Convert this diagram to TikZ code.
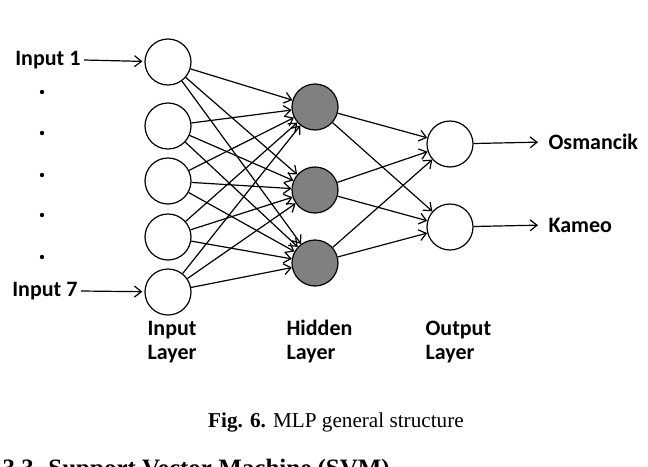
\documentclass[tikz,border=0pt]{standalone}
\usepackage{fontspec}
\usetikzlibrary{arrows.meta}
\setmainfont{Liberation Serif}
\newfontfamily\lblfont{Carlito}
\begin{document}
\begin{tikzpicture}[x=1pt, y=-1pt, line width=1.2pt,
  >={Straight Barb[length=7pt, width=11pt, line width=1.2pt]},
  neuron/.style={circle, draw, minimum size=46pt, inner sep=0pt},
  hidn/.style={neuron, fill=gray},
  lbl/.style={font=\lblfont\bfseries\fontsize{22}{24}\selectfont, inner sep=3pt},
  dotmark/.style={circle, fill, inner sep=0pt, minimum size=4.4pt}]
\useasboundingbox (0,0) rectangle (648,466);
% input layer
\node[neuron] (in1) at (168,62){};
\node[neuron] (in2) at (168,126){};
\node[neuron] (in3) at (168,181){};
\node[neuron] (in4) at (168,237){};
\node[neuron] (in5) at (168,292){};
% hidden layer
\node[hidn] (hid1) at (315,107){};
\node[hidn] (hid2) at (315,190){};
\node[hidn] (hid3) at (315,263){};
% output layer
\node[neuron] (out1) at (450,144){};
\node[neuron] (out2) at (450,227){};
% inputs and outputs
\node[lbl, anchor=east] (lin1) at (84,60){Input 1};
\node[lbl, anchor=east] (lin7) at (81,291){Input 7};
\node[lbl, anchor=west] (losm) at (545,142){Osmancik};
\node[lbl, anchor=west] (lkam) at (545,225){Kameo};
\node[dotmark] (d1) at (42,92){};
\node[dotmark] (d2) at (42,133){};
\node[dotmark] (d3) at (42,175){};
\node[dotmark] (d4) at (42,215){};
\node[dotmark] (d5) at (42,257){};
% layer names
\node[lbl, inner sep=0pt, anchor=base west, align=left] (nin) at (147,359){Input\\Layer};
\node[lbl, inner sep=0pt, anchor=base west, align=left] (nhid) at (286,359){Hidden\\Layer};
\node[lbl, inner sep=0pt, anchor=base west, align=left] (nout) at (425,359){Output\\Layer};
% connectors
\draw[->, shorten >=2pt](lin1.east) -- (in1);
\draw[->, shorten >=2pt](lin7.east) -- (in5);
\draw[->](in1) -- (hid1);
\draw[->](in1) -- (hid2);
\draw[->](in1) -- (hid3);
\draw[->](in2) -- (hid1);
\draw[->](in2) -- (hid2);
\draw[->](in2) -- (hid3);
\draw[->](in3) -- (hid1);
\draw[->](in3) -- (hid2);
\draw[->](in3) -- (hid3);
\draw[->](in4) -- (hid1);
\draw[->](in4) -- (hid2);
\draw[->](in4) -- (hid3);
\draw[->](in5) -- (hid1);
\draw[->](in5) -- (hid2);
\draw[->](in5) -- (hid3);
\draw[->](hid1) -- (out1);
\draw[->](hid1) -- (out2);
\draw[->](hid2) -- (out1);
\draw[->](hid2) -- (out2);
\draw[->](hid3) -- (out1);
\draw[->](hid3) -- (out2);
\draw[->, shorten >=7pt](out1) -- (losm.west);
\draw[->, shorten >=7pt](out2) -- (lkam.west);
% caption
\node[anchor=base, font=\fontsize{21.2}{26}\selectfont, inner sep=0pt] (cap) at (336,427){\textbf{Fig. 6.} MLP general structure};
\node[anchor=base west, font=\bfseries\fontsize{25}{30}\selectfont, inner sep=0pt] (sec) at (2,476){3.3. Support Vector Machine (SVM)};
\end{tikzpicture}
\end{document}
